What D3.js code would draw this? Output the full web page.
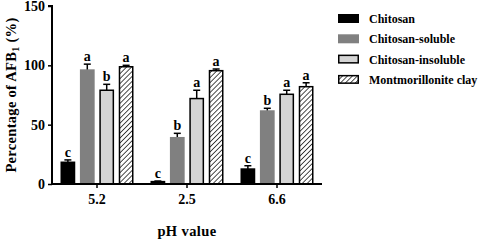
<!DOCTYPE html>
<html>
<head>
<meta charset="utf-8">
<script src="https://d3js.org/d3.v7.min.js"></script>
<style>
  body { margin: 0; background: #fff; }
  text { font-family: "Liberation Serif", "Times New Roman", serif; font-weight: bold; }
</style>
</head>
<body>
<script>
// data
const phLabels = ["5.2", "2.5", "6.6"];
const seriesNames = ["Chitosan", "Chitosan-soluble", "Chitosan-insoluble", "Montmorillonite clay"];
const chitosan    = [18.3, 2.0, 12.6];
const soluble     = [96.0, 39.0, 61.5];
const insoluble   = [79.0, 72.0, 75.6];
const clay        = [98.8, 95.5, 82.0];
const chitosanErr = [2.0, 0.5, 2.8];
const solubleErr  = [5.0, 3.7, 2.3];
const insolubleErr= [5.0, 7.0, 3.4];
const clayErr     = [1.2, 1.4, 3.3];
const chitosanLet = ["c", "c", "c"];
const solubleLet  = ["a", "b", "b"];
const insolubleLet= ["b", "a", "a"];
const clayLet     = ["a", "a", "a"];
const yTicks = [0, 50, 100, 150];

const values = [chitosan, soluble, insoluble, clay];
const errs = [chitosanErr, solubleErr, insolubleErr, clayErr];
const letters = [chitosanLet, solubleLet, insolubleLet, clayLet];

const W = 484, H = 240;
const mLeft = 52, mRight = 322, mTop = 6, mBottom = 184;

const svg = d3.select("body").append("svg")
  .attr("width", W).attr("height", H);

const defs = svg.append("defs");
const pat = defs.append("pattern")
  .attr("id", "hatch")
  .attr("patternUnits", "userSpaceOnUse")
  .attr("width", 3.5).attr("height", 3.5)
  .attr("patternTransform", "rotate(45)");
pat.append("rect").attr("width", 3.5).attr("height", 3.5).attr("fill", "#fff");
pat.append("line").attr("x1", 0).attr("y1", 0).attr("x2", 0).attr("y2", 3.5)
  .attr("stroke", "#000").attr("stroke-width", 1.4);

const fills = ["#000", "#808080", "#d4d4d4", "url(#hatch)"];
const strokes = ["#000", "#808080", "#000", "#000"];

const x = d3.scaleBand().domain(phLabels).range([mLeft, mRight]).paddingInner(0).paddingOuter(0);
const xs = d3.scaleBand().domain(d3.range(4)).range([0, 73]).paddingInner(0.24).paddingOuter(0);
const groupOff = (x.bandwidth() - 73) / 2;
const y = d3.scaleLinear().domain([0, 150]).range([mBottom, mTop]);

// bars
seriesNames.forEach((name, s) => {
  const g = svg.append("g");
  phLabels.forEach((ph, i) => {
    const bx = x(ph) + groupOff + xs(s);
    const bw = xs.bandwidth();
    const v = values[s][i];
    const e = errs[s][i];
    const cx = bx + bw / 2;
    // error bar (upper only)
    g.append("line").attr("x1", cx).attr("x2", cx)
      .attr("y1", y(v)).attr("y2", y(v + e))
      .attr("stroke", "#000").attr("stroke-width", 1.5);
    g.append("line").attr("x1", cx - 3.5).attr("x2", cx + 3.5)
      .attr("y1", y(v + e)).attr("y2", y(v + e))
      .attr("stroke", "#000").attr("stroke-width", 1.5);
    g.append("rect")
      .attr("x", bx + 0.75).attr("y", y(v))
      .attr("width", bw - 1.5).attr("height", Math.max(y(0) - y(v), 1))
      .attr("fill", fills[s]).attr("stroke", strokes[s]).attr("stroke-width", 1.5);
    g.append("text")
      .attr("x", cx).attr("y", y(v + e) - 3)
      .attr("text-anchor", "middle")
      .style("font-size", "14px")
      .text(letters[s][i]);
  });
});

// axes
const yAxis = svg.append("g")
  .attr("transform", `translate(${mLeft},0)`)
  .call(d3.axisLeft(y).tickValues(yTicks).tickSize(4).tickPadding(3));
const xAxis = svg.append("g")
  .attr("transform", `translate(0,${mBottom})`)
  .call(d3.axisBottom(x).tickSize(4).tickPadding(6));
[yAxis, xAxis].forEach(a => {
  a.select(".domain").attr("stroke", "#000").attr("stroke-width", 2);
  a.selectAll(".tick line").attr("stroke", "#000").attr("stroke-width", 1.5);
  a.selectAll(".tick text").attr("fill", "#000")
    .style("font-family", "'Liberation Serif', serif")
    .style("font-weight", "bold").style("font-size", "14px");
});
yAxis.select(".domain").attr("d", `M-4,${mTop}H0V${mBottom}`);
xAxis.select(".domain").attr("d", `M${mLeft},0H${mRight}`);

// axis titles
const yt = svg.append("text")
  .attr("transform", `translate(16,${(mTop + mBottom) / 2}) rotate(-90)`)
  .attr("text-anchor", "middle")
  .style("font-size", "14.5px")
  .style("letter-spacing", "0.3px");
yt.append("tspan").text("Percentage of AFB");
yt.append("tspan").text("1").attr("dy", 3).style("font-size", "10px");
yt.append("tspan").text(" (%)").attr("dy", -3);

svg.append("text")
  .attr("x", 187).attr("y", 236)
  .attr("text-anchor", "middle")
  .style("font-size", "14.5px")
  .style("letter-spacing", "0.4px")
  .text("pH value");

// legend
const leg = svg.append("g").attr("transform", "translate(338,14)");
seriesNames.forEach((name, s) => {
  const row = leg.append("g").attr("transform", `translate(0,${s * 20.3})`);
  row.append("rect")
    .attr("x", 0.75).attr("y", 0.75).attr("width", 19.5).attr("height", 7.5)
    .attr("fill", fills[s]).attr("stroke", strokes[s]).attr("stroke-width", 1.5);
  row.append("text")
    .attr("x", 31).attr("y", 9)
    .style("font-size", "12px")
    .text(name);
});
</script>
</body>
</html>
